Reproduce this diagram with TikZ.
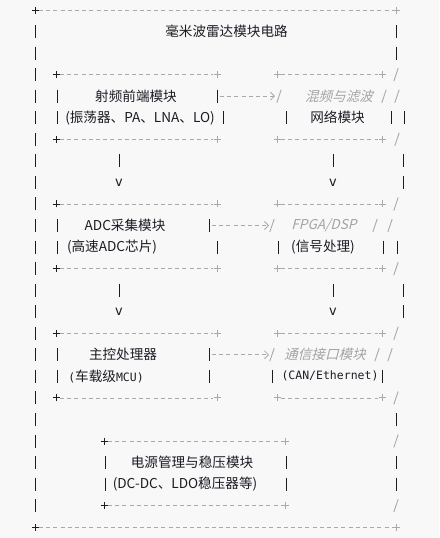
\documentclass[tikz,border=0pt]{standalone}
\usepackage{fontspec}
\setmainfont{Noto Sans CJK SC}
\setmonofont{DejaVu Sans Mono}
\newfontfamily\grayit[FakeSlant=0.25]{Noto Sans CJK SC}
\usetikzlibrary{arrows.meta}
\definecolor{bg}{HTML}{F8F8F8}
\definecolor{ink}{HTML}{1C1C24}
\definecolor{dashc}{HTML}{A9A9A9}
\definecolor{grayt}{HTML}{A4A4A4}
\tikzset{
  dsh/.style={draw=dashc,line width=0.8pt,dash pattern=on 4pt off 3.2pt},
  bar/.style={draw=ink,line width=1pt},
  sl/.style={draw=dashc,line width=0.9pt},
  txt/.style={inner sep=0pt,text=ink},
  gtx/.style={inner sep=0pt,text=grayt,font=\fontsize{13.6}{14}\grayit},
  tt/.style={inner sep=0pt,text=ink,font=\fontsize{11.5}{12}\ttfamily},
}
\newcommand\mono[1]{{\fontsize{11.5}{12}\selectfont\ttfamily#1}}
% one character of the sketch: | / +
\newcommand\vb[2]{\draw[bar] (#1,#2) ++(0pt,6.5pt) -- ++(0pt,-13pt);}
\newcommand\sls[2]{\draw[sl] (#1,#2) ++(-2.2pt,-6.5pt) -- ++(4.4pt,13pt);}
\newcommand\plus[3]{\draw[#3,line width=0.9pt] (#1,#2) ++(-3.5pt,0pt) -- ++(7pt,0pt) (#1,#2) ++(0pt,-3.5pt) -- ++(0pt,7pt);}
\begin{document}
\begin{tikzpicture}[x=1pt,y=-21.55pt,>={Straight Barb[length=4pt,width=8pt]},font=\fontsize{13.6}{14}\selectfont]
\fill[bg] (0pt,10pt) rectangle (439pt,-528pt);
\useasboundingbox (0pt,10pt) rectangle (439pt,-528pt);
% outer frame
\draw[dsh] (39,0)--(392,0) (39,24)--(392,24);
\plus{35}{0}{ink} \plus{396}{0}{dashc} \plus{35}{24}{ink} \plus{396}{24}{dashc}
\foreach \r in {1,...,23} {\vb{35}{\r}}
\foreach \x/\r in {396/1,396/2,404/5,403/7,403/8,397/11,403/13,403/14,396/19,396/21,396/22} {\vb{\x}{\r}}
\foreach \x/\r in {396/3,397/4,397/6,396/9,390/10,396/12,396/15,390/16,396/18,396/20,396/23} {\sls{\x}{\r}}
\node[txt] (title) at (226.5,1) {毫米波雷达模块电路};
% module boxes
\foreach \t in {3,9,15}{
  \draw[dsh] (60,\t)--(213,\t) (60,\t+3)--(213,\t+3) (281,\t)--(378,\t) (281,\t+3)--(378,\t+3);
  \plus{56}{\t}{ink} \plus{56}{\t+3}{ink} \plus{217}{\t}{dashc} \plus{217}{\t+3}{dashc}
  \plus{277}{\t}{dashc} \plus{277}{\t+3}{dashc} \plus{382}{\t}{dashc} \plus{382}{\t+3}{dashc}
  \vb{57}{\t+1} \vb{57}{\t+2}
}
\vb{217}{4} \vb{223}{5} \vb{209}{10} \vb{217}{11} \vb{209}{16} \vb{209}{17}
\sls{279}{4} \sls{384}{4} \vb{286}{5} \vb{391}{5}
\sls{272}{10} \sls{375}{10} \vb{278}{11} \vb{383}{11}
\sls{272}{16} \sls{377}{16} \vb{272}{17} \vb{382}{17}
\node[txt] (rf) at (136,4) {射频前端模块};
\node[txt] (rfsub) at (140,5) {(振荡器、PA、LNA、LO)};
\node[gtx] (mix) at (339,4) {混频与滤波};
\node[txt] (net) at (337.5,5) {网络模块};
\node[txt] (adc) at (125,10) {ADC采集模块};
\node[txt] (adcsub) at (112,11) {(高速ADC芯片)};
\node[gtx] (fpga) at (324,10) {FPGA/DSP};
\node[txt] (sig) at (323,11) {(信号处理)};
\node[txt] (mcu) at (123,16) {主控处理器};
\node[txt] (mcusub) at (106,17) {\mono{(}车载级\mono{MCU)}};
\node[gtx] (com) at (325,16) {通信接口模块};
\node[tt] (can) at (330,17) {(CAN/Ethernet)};
% dashed links
\coordinate (rfR) at (220,4); \coordinate (mixL) at (275,4);
\coordinate (adcR) at (212,10); \coordinate (fpgaL) at (269,10);
\coordinate (mcuR) at (212,16); \coordinate (comL) at (269,16);
\draw[dsh,->] (rfR)--(mixL);
\draw[dsh,->] (adcR)--(fpgaL);
\draw[dsh,->] (mcuR)--(comL);
% down arrows
\foreach \r in {7,13}{
  \vb{119}{\r} \vb{333}{\r}
  \node[tt,font=\fontsize{13.5}{14}\ttfamily] (vl\r) at (119,\r+1) {v};
  \node[tt,font=\fontsize{13.5}{14}\ttfamily] (vr\r) at (333,\r+1) {v};
}
% power box
\draw[dsh] (108,20)--(281,20) (108,23)--(281,23);
\plus{104}{20}{ink} \plus{104}{23}{ink} \plus{285}{20}{dashc} \plus{285}{23}{dashc}
\vb{105}{21} \vb{105}{22} \vb{286}{21} \vb{286}{22}
\node[txt] (pwr) at (192,21) {电源管理与稳压模块};
\node[txt] (pwrsub) at (185,22) {(DC-DC、LDO稳压器等)};
\end{tikzpicture}
\end{document}
